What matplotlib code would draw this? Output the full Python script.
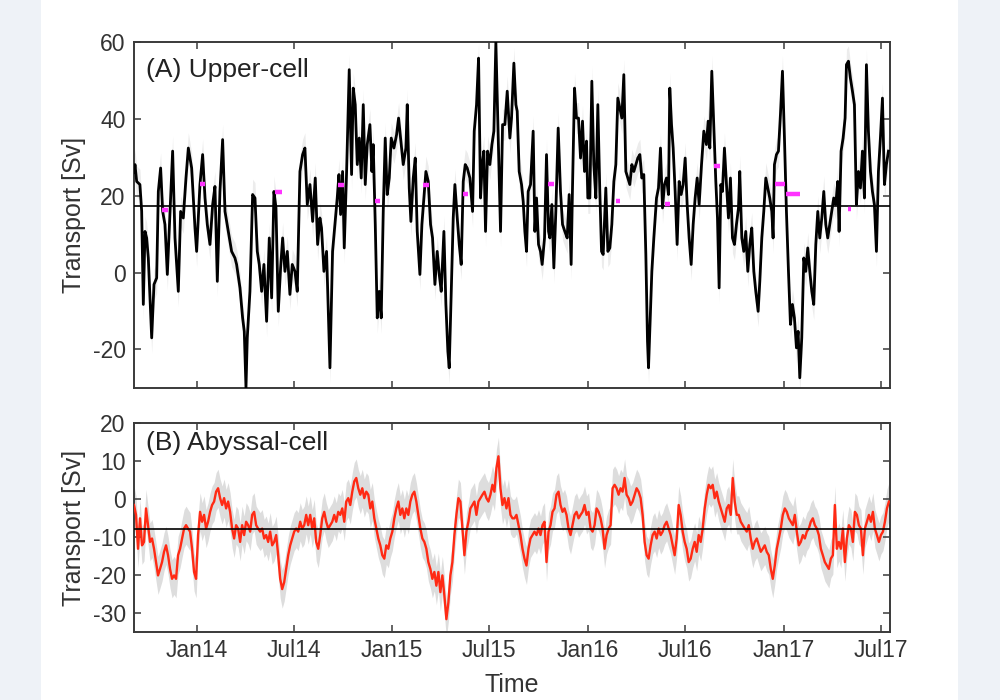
import numpy as np
import pandas as pd
import matplotlib
matplotlib.use('Agg')
import matplotlib.pyplot as plt
from matplotlib.patches import Rectangle

plt.rcParams['font.family'] = ['Liberation Sans', 'DejaVu Sans']
plt.rcParams['axes.unicode_minus'] = False

# ---------------- data ----------------
record_start = '2013-09-06'
record_end = '2017-07-18'

# (A) Upper-cell transport: days since record start, values in Sv
upper_days = [0.5, 1.8, 5, 11, 14.3, 17.4, 20.5, 23.6, 26.7, 33, 37.3, 42.3, 45.4, 49.7, 53.5, 57.8, 62.2, 65.9,
              72.1, 76.5, 82.7, 87, 92, 97, 101.4, 107.6, 113.8, 116.9, 123.1, 128.1, 132.5, 136.8, 141.8, 146.8,
              151.1, 155.5, 160.4, 165.4, 169.8, 176, 182.2, 188.4, 191.5, 197.8, 202.7, 205.8, 209, 211.4, 216.4,
              221.4, 225.8, 230.1, 233.8, 238.2, 242.5, 247.5, 252.5, 256.9, 261.2, 265, 269.3, 273.6, 277.4, 281.7,
              286.1, 291, 295.4, 300.4, 304.7, 309.7, 314.7, 319, 323.4, 328.4, 333.4, 338.3, 342.7, 347,
              350, 354.5, 359.4, 365.7, 370.6, 375, 379.3, 382.5, 385.6, 389.3, 392.4, 396.8, 401.7, 406.1, 409.2,
              412.9, 416.7, 420.4, 424.1, 427.9, 431.6, 435.3, 440.3, 444, 446.5, 450.3, 454, 457.7, 461.4, 465.2,
              468.9, 472.6, 476.4, 480.1, 485.1, 490.1, 493.8, 497.5, 502.5, 507.5, 510, 513.7, 516.8, 521.2, 524.9,
              528.6, 533.6, 537.3, 541.1, 544.8, 549.2, 553.5, 557.2, 561.6, 565.9, 569.7, 573.4, 578.4, 582.1,
              585.8, 588.3, 592.1, 595.8, 598.9, 603.3, 607, 610.7, 614.5, 618.2, 621.9, 626.9, 631.9, 635, 639.3,
              643.1, 646.8, 649.9, 653, 656.1, 659.9, 664.2, 668, 671.7, 675.4, 679.8, 684.1, 687.9, 692.2, 696.6,
              701.5, 704.6, 709, 712.7, 715.2, 718.9, 723.3, 726.4, 729.5, 732.6, 735.7, 740.1, 745, 748.2, 751.3,
              755, 758.7, 761.8, 766.2, 769.9, 773.7, 776.1, 779.9, 783.6, 787.3, 791.7, 796, 799.8, 804.1, 808.5,
              812.2, 815.9, 818.4, 822.2, 825.9, 829.6, 833.4, 837.1, 840.8, 844.6, 847, 850.8, 854.5, 858.2, 862,
              865.7, 869.4, 872.6, 875.7, 880.6, 884.4, 888.1, 891.8, 895.6, 899.3, 903, 906.8, 910.5, 914.2, 918,
              921.7, 925.4, 929.2, 932.9, 936.6, 940.3, 944.1, 947.8, 951.5, 955.3, 958.4, 960.3, 962.7, 966.5,
              970.2, 975.2, 978.9, 982.6, 986.4, 990.1, 993.8, 997.6, 1000, 1003.2, 1006.3, 1010, 1013.7, 1017.5,
              1021.2, 1024.9, 1028.7, 1032.4, 1036.1, 1039.9, 1043.6, 1047.3, 1051.1, 1054.8, 1059.2, 1063.5,
              1068.4, 1071.6, 1074.7, 1078.4, 1082.1, 1085.9, 1089, 1092.1, 1095.2, 1098.3, 1102, 1105.8, 1109.5,
              1113.2, 1117, 1120.7, 1124.4, 1128.2, 1130.6, 1134.4, 1138.1, 1141.8, 1145.6, 1149.3, 1153, 1156.8,
              1160.5, 1164.9, 1168, 1171.7, 1175.4, 1179.2, 1182.9, 1186.6, 1190.4, 1192.8, 1195.3, 1199.1, 1202.8,
              1206.5, 1210.3, 1214, 1217.7, 1221.5, 1225.2, 1228.9, 1232.6, 1236.4, 1239.5, 1242.6, 1246.3, 1250.1,
              1253.8, 1257.5, 1261.3, 1265, 1268.7, 1272.5, 1276.2, 1279.9, 1283.7, 1287.4, 1291.1, 1294.8, 1298.6,
              1302.3, 1306, 1309.8, 1313.5, 1316, 1319.7, 1323.5, 1327.2, 1329.7, 1333.4, 1337.1, 1340.9, 1344.6,
              1348.3, 1352.1, 1355.8, 1359.5, 1363.3, 1367, 1370.7, 1374.5, 1378.2, 1381.9, 1385.7, 1389.4, 1393.1,
              1396.9, 1400.6, 1404.3, 1408.1]
upper_vals = [26, 28.1, 23.7, 22.9, 16, -8.3, 10.7, 9, 3.8, -17, -3.1, -1.4, 21.1, 27.2, 15.9, 12.5, -0.5, 11.6,
              31.6, 9, -4.9, 15.9, 14.2, 24.6, 32.4, 27.2, 11.6, 5.5, 22.9, 30.7, 19.4, 12.5, 7.3, 17.7,
              22.4, -2.3, 21.1, 34.6, 15.9, 10.7, 5.5, 3.8, 2.1, -4, -11.8, -15.3, -30, -17, -4.9,
              20.3, 19.4, 5.5, 2.1, -4.9, 2.1, -12.7, 9, -6.6, 21.1, 16.8, -10.1, 1.2, 9, 0.3,
              5.5, -5.7, 2.1, 0.3, -4.9, 26.3, 30.7, 32.4, 17.7, 22.9, 13.3, 24.6, 7.3, 14.2,
              11.6, 0.3, 5.5, -24.8, 5.5, 12.5, 19.4, 25.5, 15.1, 26.3, 6.4, 26.3, 52.8, 25.5, 48,
              43.7, 28.1, 35, 24.6, 43.7, 22.9, 33.3, 38.5, 26.3, 33.3, 12.5, -11.8, -4.9, -11.8, 15.9,
              35, 20.3, 24.6, 35, 32.4, 35.9, 40.2, 35, 28.1, 32.4, 43.7, 22, 13.3, 24.6, 29.8,
              10.7, -0.5, 12.5, 19.4, 26.3, 23.7, 12.5, 9, -3.1, 5.5, -0.5, -4.9, 10.7, -8.3,
              -20.5, -24.8, -4.9, 14.2, 22.9, 14.2, 7.3, 2.1, 23.7, 28.1, 27.2, 24.6, 15.9, 36.8, 43.7,
              55.8, 19.4, 28.1, 31.6, 10.7, 31.6, 28.1, 33.3, 36.8, 60, 35, 10.7, 38.5, 38.5, 47.2,
              35, 40.2, 54.5, 43.7, 42, 26.3, 22.9, 18.5, 10.7, 5.5, 21.1, 22.9, 36.8, 10.7, 19.4,
              7.3, 5.5, 2.1, 9, 30.7, 10.7, 9, 17.7, 1.2, 15.9, 37.6, 21.1, 12.5, 10.7, 9,
              20.3, 2.1, 22, 48, 40.2, 40.2, 29.8, 39.4, 26.3, 34.2, 19.4, 19.4, 49.8, 28.1, 19.4,
              43.7, 21.1, 5.5, 4.7, 22, 5.5, 6.4, 12.5, 23.7, 28.1, 45.4, 42.8, 40.2, 51.5, 26.3,
              24.6, 22.9, 28.1, 26.3, 28.1, 29.8, 30.7, 24.6, 25.5, 4.7, -17.9, -24.8, -15.3, 0.3,
              9, 19.4, 22, 32.4, 16.8, 22.9, 24.6, 20.3, 48, 38.5, 32.4, 21.1, 7.3, 23.7,
              20.3, 22.9, 29.8, 17.7, 9, 2.1, 12.5, 19.4, 24.6, 17.7, 28.1, 36.8,
              33.3, 39.4, 32.4, 52.4, 38.5, 23.7, 14.2, -4, 22.9, 21.1, 32.4, 22.9, 14.2,
              24.6, 9, 7.3, 12.5, 16.8, 26.3, 9, 5.5, 10.7, 0.3, 7.3, 11.6, 0.3,
              -4.9, -10.1, -2.3, 9, 15.9, 24.6, 22, 19.4, 15.9, 9, 28.1, 30.7, 31.6,
              41.1, 52.4, 35, 15.9, 0.3, -13.5, -8.3, -11.8, -19.6, -15.3, -27.4, -17, 3.8,
              0.3, 6.4, 0.3, -4.9, -8.3, 7.3, 15.9, 9, 14.2, 21.1, 12.5, 9, 12.5,
              15.9, 19.4, 17.7, 23.7, 10.7, 31.6, 35, 40.2, 54.1, 55, 50.6, 47.2, 43.7,
              17.7, 26.3, 22, 31.6, 19.4, 54.1, 36.8, 26.3, 21.1, 17.7, 5.5, 26.3, 35,
              45.4, 22.9, 28.1, 31.6]
upper_mean = 17.3
upper_err = 4.0

# (B) Abyssal-cell transport, regularly sampled over the record (Sv)
abyssal_vals = [-1.6, -4.2, -13.1, -5.1, -12.2, -11.3, -2.5, -6.9, -11.3, -10.4, -13.1, -16.6, -20.1, -18.4,
                -16.6, -13.9, -12.2, -14.8, -18.4, -21.0, -20.1, -21.0, -14.8, -13.1, -10.4, -7.8, -6.9, -7.8,
                -8.6, -13.1, -19.2, -21.0, -9.5, -3.4, -6.0, -4.2, -7.8, -6.0, -3.4, -1.6, -0.7, 1.9, 2.8, 0.2,
                -1.6, 0.2, -2.5, -0.7, -3.4, -7.8, -10.4, -6.9, -7.8, -11.3, -6.9, -9.5, -6.0, -6.9, -8.6, -4.2,
                -3.4, -6.9, -7.8, -8.6, -7.8, -10.4, -9.5, -11.3, -8.6, -12.2, -11.3, -9.5, -14.8, -21.0, -23.7,
                -21.9, -18.4, -14.8, -12.2, -10.4, -8.6, -7.8, -8.6, -6.0, -7.8, -6.9, -4.2, -6.9, -4.2, -7.8,
                -5.1, -11.3, -13.1, -9.5, -5.1, -3.4, -6.0, -7.8, -6.9, -6.0, -4.2, -6.0, -3.4, -4.2, -2.5, -6.0,
                -0.7, 0.2, -1.6, 1.9, 4.6, 5.5, 2.8, 1.1, 2.8, 0.2, 1.9, 1.1, -2.5, -0.7, -5.1, -7.8, -10.4,
                -12.2, -14.8, -15.7, -12.2, -13.1, -10.4, -8.6, -5.1, -2.5, -0.7, -4.2, -2.5, -5.1, -2.5, -4.2,
                -0.7, 1.1, 1.9, -0.7, -4.2, -7.8, -10.4, -11.3, -13.1, -16.6, -18.4, -21.0, -19.2, -22.8, -19.2,
                -24.5, -20.1, -25.4, -31.6, -27.2, -20.1, -16.6, -9.5, -4.2, 0.2, -0.7, -7.8, -14.8, -8.6, -6.0,
                -2.5, -1.6, -0.7, -4.2, -0.7, 0.2, 1.1, 1.9, 0.2, -0.7, 1.1, 3.7, 1.9, 8.1, 11.2, 2.8, -1.6,
                0.2, -2.5, 0.2, -4.2, -5.1,
                -5.1, -4.2, -6.9, -9.5, -13.1, -15.7, -17.5, -13.1, -10.4, -9.5, -8.6, -9.5, -7.8, -9.5, -6.9,
                -6.0, -16.6, -8.6, -6.9, -3.4, -2.5, 1.1, 1.9, -1.6, -3.4, -2.5, -4.2, -7.8, -9.5, -6.9, -4.2,
                -3.4, -5.1, -4.2, -3.4, -1.6, -4.2, -3.4, -7.8, -8.6, -6.9, -2.5, -3.4, -5.1, -7.8, -13.1, -9.5,
                -7.8, -6.9, 2.8, 3.7, 2.8, 1.1, 2.8, 1.9, 5.5, 1.1, 0.2, -1.6, -0.7, 1.1, 2.8, 1.9, 0.2, -4.2,
                -11.3, -14.8, -15.7, -12.2, -9.5, -8.6, -10.4, -7.8, -9.5, -8.6, -6.9, -6.0, -7.8, -9.5, -12.2,
                -14.8, -10.4, -1.6, -4.2, -8.6, -11.3, -13.1, -16.6, -15.7, -13.1, -11.3, -13.9, -9.5, -11.3,
                -7.8, -2.5, 1.1, 3.7, 2.8, 3.7, 0.2, 1.9, -0.7, -2.5, -4.2, -6.0, -2.5, -1.6, -4.2, 5.5, -0.7,
                -4.2, -4.2, -6.0, -6.9, -7.8, -8.6, -6.9, -10.4, -13.1, -11.3, -10.4, -12.2, -13.9, -13.1, -12.2,
                -13.9, -14.8, -18.4, -21.0, -17.5, -13.1, -10.4, -7.8, -4.2, -2.5, -3.4, -5.1, -6.0, -6.9, -4.2,
                -8.6, -12.2, -11.3, -9.5, -10.4, -8.6, -7.8, -6.0, -5.1, -6.9, -7.8, -9.5, -13.1, -14.8, -16.6,
                -17.5, -18.4, -15.7, -14.8, -1.6, -13.1, -11.3, -13.1, -7.8, -16.6, -10.4, -6.9, -7.8, -11.3,
                -3.4, -4.2, -6.9, -7.8, -14.8, -7.8, -6.0, -4.2, -6.0, -3.4, -7.8, -9.5, -11.3, -9.5, -8.6,
                -6.0, -2.5, -0.7]
abyssal_mean = -7.9
abyssal_err = 5.0

# Cruise-based upper-cell estimates (days since record start, Sv)
cruise_start = [52, 123, 263, 381, 450, 540, 614, 773, 899, 991, 1082, 1196, 1216, 1333]
cruise_end = [64, 132, 276, 392, 459, 550, 624, 784, 908, 1000, 1094, 1215, 1243, 1339]
cruise_vals = [16.4, 23.1, 20.9, 22.7, 18.5, 22.9, 20.5, 23.1, 18.5, 17.8, 27.8, 23.1, 20.5, 16.6]

tick_dates = ['2014-01-01', '2014-07-01', '2015-01-01', '2015-07-01',
              '2016-01-01', '2016-07-01', '2017-01-01', '2017-07-01']
tick_labels = ['Jan14', 'Jul14', 'Jan15', 'Jul15', 'Jan16', 'Jul16', 'Jan17', 'Jul17']

upper_yticks = [-20, 0, 20, 40, 60]
abyssal_yticks = [-30, -20, -10, 0, 10, 20]

# ---------------- helpers ----------------
t0 = pd.Timestamp(record_start)
t1 = pd.Timestamp(record_end)


def to_time(days):
    return t0 + pd.to_timedelta(np.asarray(days, dtype=float), unit='D')


upper_t = to_time(upper_days)
upper_v = np.asarray(upper_vals)
aby_days = np.linspace(0, (t1 - t0).days - 2, len(abyssal_vals))
aby_t = to_time(aby_days)
aby_v = np.asarray(abyssal_vals)

# ---------------- figure ----------------
fig = plt.figure(figsize=(10, 7), dpi=100)
fig.patch.set_facecolor('#eef2f7')
fig.add_artist(Rectangle((0.041, 0), 0.917, 1, transform=fig.transFigure,
                         facecolor='white', edgecolor='none', zorder=-10))

ax1 = fig.add_axes([0.134, 0.446, 0.756, 0.494])
ax2 = fig.add_axes([0.134, 0.097, 0.756, 0.299])

spine_c = '#3a3a3a'
text_c = '#333333'

for ax in (ax1, ax2):
    for s in ax.spines.values():
        s.set_color(spine_c)
        s.set_linewidth(1.4)
    ax.tick_params(direction='in', top=True, right=True, length=5, width=1.1,
                   color=spine_c, labelsize=16.5, labelcolor=text_c, pad=6)
    ax.set_xlim(t0, t1)
    ax.set_xticks(pd.to_datetime(tick_dates))
    ax.set_facecolor('white')

# Upper cell
ax1.fill_between(upper_t, upper_v - upper_err, upper_v + upper_err,
                 color='#ececec', lw=0, zorder=1)
ax1.plot(upper_t, upper_v, color='black', lw=2.0, zorder=3)
ax1.axhline(upper_mean, color='black', lw=1.2, zorder=4)
for s, e, v in zip(cruise_start, cruise_end, cruise_vals):
    ax1.plot(to_time([s, e]), [v, v], color='#ff33ff', lw=3.2, solid_capstyle='butt', zorder=5)
ax1.set_ylim(-30, 60)
ax1.set_yticks(upper_yticks)
ax1.set_xticklabels([])
ax1.set_ylabel('Transport [Sv]', fontsize=18, color=text_c, labelpad=5)
ax1.text(0.016, 0.92, '(A) Upper-cell', transform=ax1.transAxes, fontsize=19,
         color='#222222', va='center', ha='left')

# Abyssal cell
ax2.fill_between(aby_t, aby_v - abyssal_err, aby_v + abyssal_err,
                 color='#dddddd', lw=0, zorder=1)
ax2.plot(aby_t, aby_v, color='#ff2a14', lw=1.7, zorder=3)
ax2.axhline(abyssal_mean, color='black', lw=1.2, zorder=4)
ax2.set_ylim(-35, 20)
ax2.set_yticks(abyssal_yticks)
ax2.set_xticklabels(tick_labels)
ax2.tick_params(axis='x', pad=5)
ax2.set_ylabel('Transport [Sv]', fontsize=18, color=text_c, labelpad=5)
ax2.set_xlabel('Time', fontsize=18, color=text_c, labelpad=8)
ax2.text(0.016, 0.905, '(B) Abyssal-cell', transform=ax2.transAxes, fontsize=19,
         color='#222222', va='center', ha='left')

fig.savefig('out.png', dpi=100, facecolor=fig.get_facecolor())
